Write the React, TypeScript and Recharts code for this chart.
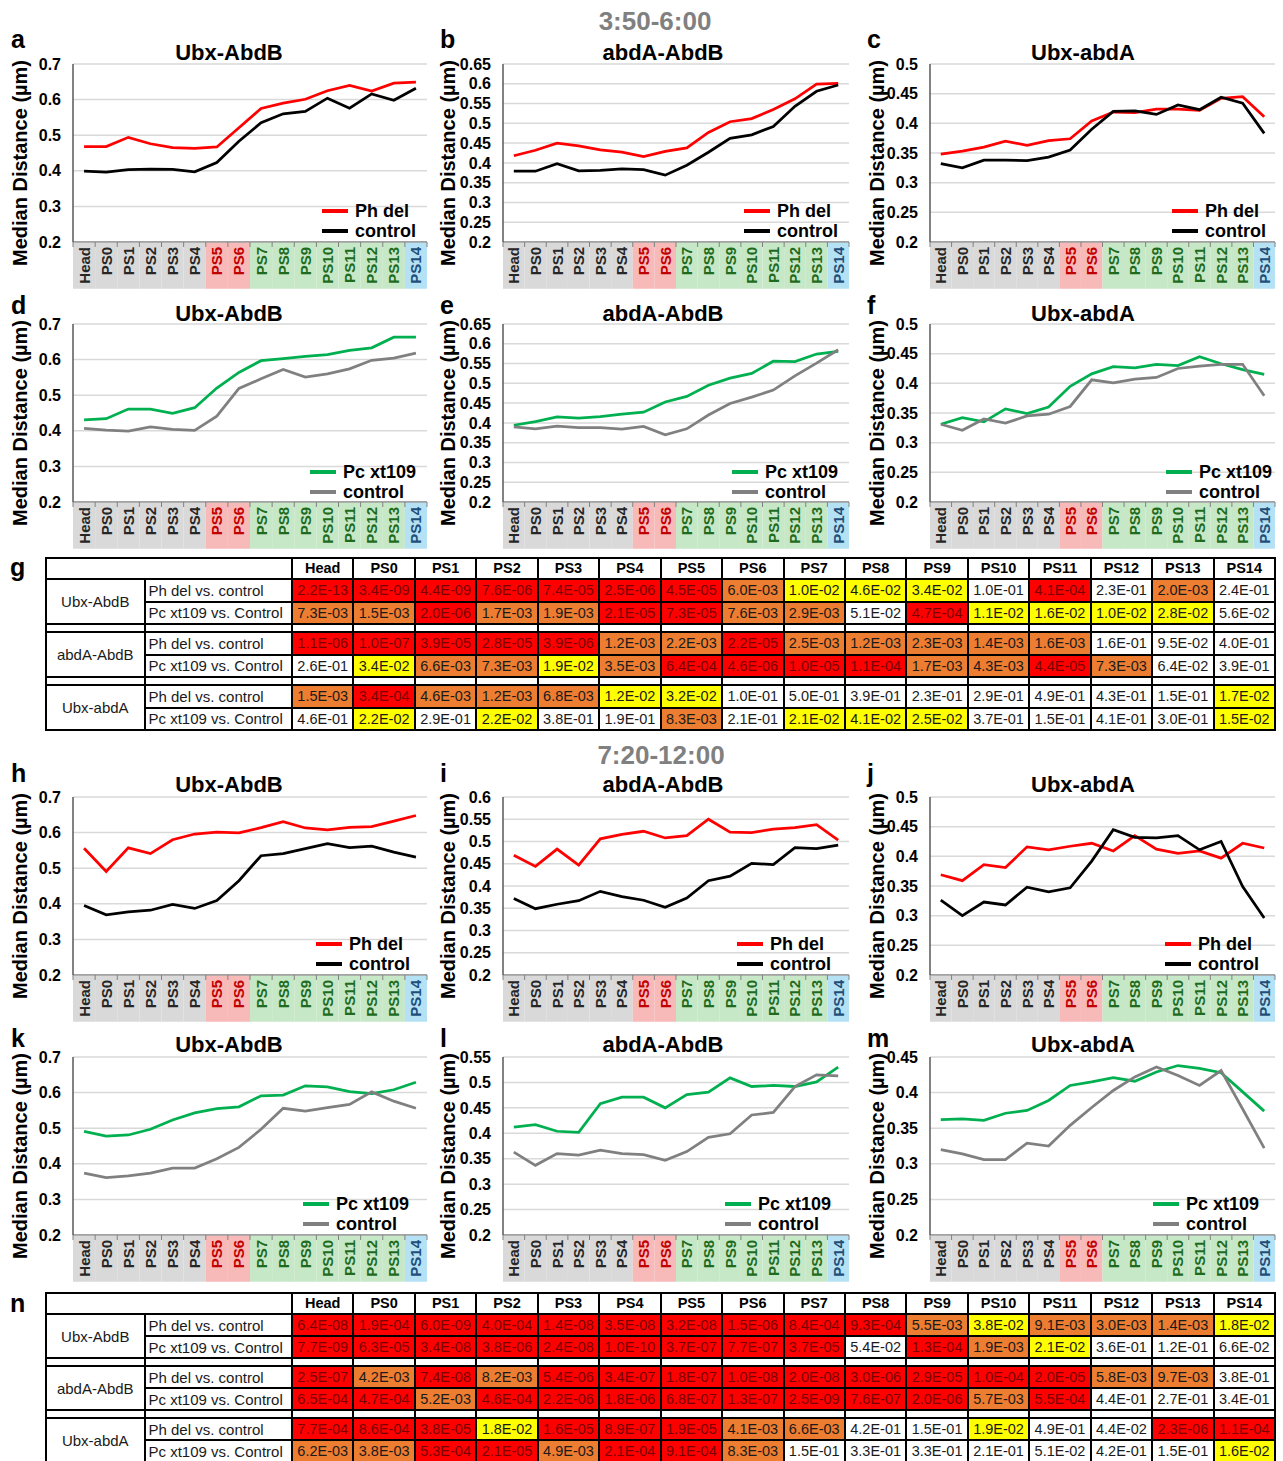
import React from 'react';
import { LineChart, Line, XAxis, YAxis, CartesianGrid, Legend } from 'recharts';

const FONT = '"Liberation Sans", Arial, Helvetica, sans-serif';
const RED = '#ff0000';
const BLACK = '#000000';
const GREEN = '#00b050';
const GRAY = '#808080';

const segments = ['Head', 'PS0', 'PS1', 'PS2', 'PS3', 'PS4', 'PS5', 'PS6', 'PS7', 'PS8', 'PS9', 'PS10', 'PS11', 'PS12', 'PS13', 'PS14'];
const segmentZone = ['ant', 'ant', 'ant', 'ant', 'ant', 'ant', 'ubx', 'ubx', 'abd', 'abd', 'abd', 'abd', 'abd', 'abd', 'abd', 'tail'];

const zoneStyle: Record<string, { fill: string; text: string }> = {
    ant: { fill: '#d9d9d9', text: '#262626' },
    ubx: { fill: '#f8b9b9', text: '#c00000' },
    abd: { fill: '#c6e8c6', text: '#1e6b1e' },
    tail: { fill: '#b5e1f5', text: '#1f4e79' },
};

// y axis ticks
const ticks070 = [0.2, 0.3, 0.4, 0.5, 0.6, 0.7];
const ticks065 = [0.2, 0.25, 0.3, 0.35, 0.4, 0.45, 0.5, 0.55, 0.6, 0.65];
const ticks060 = [0.2, 0.25, 0.3, 0.35, 0.4, 0.45, 0.5, 0.55, 0.6];
const ticks055 = [0.2, 0.25, 0.3, 0.35, 0.4, 0.45, 0.5, 0.55];
const ticks050 = [0.2, 0.25, 0.3, 0.35, 0.4, 0.45, 0.5];
const ticks045 = [0.2, 0.25, 0.3, 0.35, 0.4, 0.45];

// 3:50-6:00
const aPhDel = [0.468, 0.468, 0.494, 0.476, 0.465, 0.463, 0.467, 0.521, 0.575, 0.590, 0.601, 0.625, 0.640, 0.624, 0.646, 0.649];
const aControl = [0.399, 0.396, 0.403, 0.405, 0.404, 0.397, 0.423, 0.483, 0.535, 0.560, 0.567, 0.604, 0.576, 0.616, 0.598, 0.632];
const bPhDel = [0.418, 0.432, 0.450, 0.443, 0.433, 0.427, 0.416, 0.429, 0.438, 0.477, 0.504, 0.512, 0.535, 0.562, 0.599, 0.601];
const bControl = [0.379, 0.379, 0.398, 0.380, 0.381, 0.385, 0.383, 0.369, 0.394, 0.427, 0.462, 0.471, 0.492, 0.543, 0.581, 0.597];
const cPhDel = [0.348, 0.353, 0.360, 0.370, 0.363, 0.371, 0.374, 0.404, 0.419, 0.418, 0.424, 0.424, 0.422, 0.442, 0.445, 0.411];
const cControl = [0.332, 0.325, 0.338, 0.338, 0.337, 0.343, 0.355, 0.390, 0.420, 0.421, 0.415, 0.431, 0.423, 0.444, 0.434, 0.383];
const dPc = [0.431, 0.434, 0.461, 0.461, 0.449, 0.465, 0.520, 0.564, 0.597, 0.603, 0.609, 0.614, 0.626, 0.633, 0.663, 0.663];
const dControl = [0.407, 0.402, 0.399, 0.411, 0.404, 0.401, 0.441, 0.519, 0.546, 0.572, 0.551, 0.560, 0.574, 0.598, 0.604, 0.618];
const ePc = [0.394, 0.403, 0.415, 0.412, 0.416, 0.422, 0.427, 0.453, 0.467, 0.495, 0.513, 0.525, 0.556, 0.555, 0.574, 0.581];
const eControl = [0.390, 0.385, 0.392, 0.388, 0.388, 0.384, 0.391, 0.370, 0.385, 0.420, 0.449, 0.465, 0.483, 0.519, 0.551, 0.585];
const fPc = [0.331, 0.342, 0.335, 0.357, 0.349, 0.360, 0.395, 0.416, 0.428, 0.426, 0.432, 0.430, 0.445, 0.433, 0.423, 0.415];
const fControl = [0.331, 0.321, 0.340, 0.333, 0.345, 0.348, 0.361, 0.406, 0.401, 0.407, 0.410, 0.425, 0.429, 0.432, 0.432, 0.379];

// 7:20-12:00
const hPhDel = [0.556, 0.491, 0.557, 0.541, 0.580, 0.596, 0.601, 0.599, 0.614, 0.631, 0.613, 0.608, 0.615, 0.617, 0.632, 0.648];
const hControl = [0.395, 0.369, 0.377, 0.382, 0.398, 0.387, 0.409, 0.465, 0.535, 0.541, 0.555, 0.569, 0.558, 0.562, 0.545, 0.531];
const iPhDel = [0.469, 0.444, 0.483, 0.447, 0.506, 0.516, 0.523, 0.508, 0.513, 0.550, 0.521, 0.520, 0.528, 0.531, 0.538, 0.503];
const iControl = [0.372, 0.349, 0.359, 0.367, 0.388, 0.376, 0.368, 0.352, 0.373, 0.412, 0.422, 0.451, 0.448, 0.486, 0.484, 0.492];
const jPhDel = [0.369, 0.359, 0.386, 0.381, 0.416, 0.411, 0.417, 0.422, 0.409, 0.435, 0.412, 0.405, 0.409, 0.397, 0.422, 0.414];
const jControl = [0.326, 0.300, 0.323, 0.318, 0.348, 0.340, 0.347, 0.392, 0.445, 0.432, 0.431, 0.435, 0.411, 0.425, 0.349, 0.296];
const kPc = [0.491, 0.478, 0.481, 0.497, 0.523, 0.543, 0.555, 0.560, 0.591, 0.593, 0.619, 0.616, 0.603, 0.597, 0.608, 0.629];
const kControl = [0.374, 0.361, 0.366, 0.374, 0.388, 0.388, 0.414, 0.446, 0.497, 0.556, 0.548, 0.558, 0.567, 0.602, 0.576, 0.556];
const lPc = [0.412, 0.417, 0.404, 0.402, 0.458, 0.471, 0.471, 0.450, 0.476, 0.481, 0.509, 0.492, 0.494, 0.492, 0.501, 0.530];
const lControl = [0.363, 0.337, 0.360, 0.357, 0.367, 0.360, 0.358, 0.347, 0.364, 0.392, 0.399, 0.436, 0.441, 0.492, 0.515, 0.513];
const mPc = [0.362, 0.363, 0.361, 0.371, 0.375, 0.389, 0.410, 0.415, 0.421, 0.416, 0.429, 0.438, 0.434, 0.428, 0.401, 0.374];
const mControl = [0.320, 0.314, 0.306, 0.306, 0.329, 0.325, 0.354, 0.379, 0.403, 0.422, 0.436, 0.424, 0.410, 0.431, 0.377, 0.322];

// p-value tables
const pairs = ['Ubx-AbdB', 'abdA-AbdB', 'Ubx-abdA'];
const comparisons = ['Ph del vs. control', 'Pc xt109 vs. Control'];

const gUbxAbdBPh = ['2.2E-13', '3.4E-09', '4.4E-09', '7.6E-06', '7.4E-05', '2.5E-06', '4.5E-05', '6.0E-03', '1.0E-02', '4.6E-02', '3.4E-02', '1.0E-01', '4.1E-04', '2.3E-01', '2.0E-03', '2.4E-01'];
const gUbxAbdBPc = ['7.3E-03', '1.5E-03', '2.0E-06', '1.7E-03', '1.9E-03', '2.1E-05', '7.3E-05', '7.6E-03', '2.9E-03', '5.1E-02', '4.7E-04', '1.1E-02', '1.6E-02', '1.0E-02', '2.8E-02', '5.6E-02'];
const gAbdAAbdBPh = ['1.1E-06', '1.0E-07', '3.9E-05', '2.8E-05', '3.9E-06', '1.2E-03', '2.2E-03', '2.2E-05', '2.5E-03', '1.2E-03', '2.3E-03', '1.4E-03', '1.6E-03', '1.6E-01', '9.5E-02', '4.0E-01'];
const gAbdAAbdBPc = ['2.6E-01', '3.4E-02', '6.6E-03', '7.3E-03', '1.9E-02', '3.5E-03', '6.4E-04', '4.6E-06', '1.0E-05', '1.1E-04', '1.7E-03', '4.3E-03', '4.4E-05', '7.3E-03', '6.4E-02', '3.9E-01'];
const gUbxAbdAPh = ['1.5E-03', '3.4E-04', '4.6E-03', '1.2E-03', '6.8E-03', '1.2E-02', '3.2E-02', '1.0E-01', '5.0E-01', '3.9E-01', '2.3E-01', '2.9E-01', '4.9E-01', '4.3E-01', '1.5E-01', '1.7E-02'];
const gUbxAbdAPc = ['4.6E-01', '2.2E-02', '2.9E-01', '2.2E-02', '3.8E-01', '1.9E-01', '8.3E-03', '2.1E-01', '2.1E-02', '4.1E-02', '2.5E-02', '3.7E-01', '1.5E-01', '4.1E-01', '3.0E-01', '1.5E-02'];

const nUbxAbdBPh = ['6.4E-08', '1.9E-04', '6.0E-09', '4.0E-04', '1.4E-08', '3.5E-08', '3.2E-08', '1.5E-06', '8.4E-04', '9.3E-04', '5.5E-03', '3.8E-02', '9.1E-03', '3.0E-03', '1.4E-03', '1.8E-02'];
const nUbxAbdBPc = ['7.7E-09', '6.3E-05', '3.4E-08', '3.8E-06', '2.4E-08', '1.0E-10', '3.7E-07', '7.7E-07', '3.7E-05', '5.4E-02', '1.3E-04', '1.9E-03', '2.1E-02', '3.6E-01', '1.2E-01', '6.6E-02'];
const nAbdAAbdBPh = ['2.5E-07', '4.2E-03', '7.4E-08', '8.2E-03', '5.4E-06', '3.4E-07', '1.8E-07', '1.0E-08', '2.0E-08', '3.0E-06', '2.9E-05', '1.0E-04', '2.0E-05', '5.8E-03', '9.7E-03', '3.8E-01'];
const nAbdAAbdBPc = ['6.5E-04', '4.7E-04', '5.2E-03', '4.6E-04', '2.2E-06', '1.8E-06', '6.8E-07', '1.3E-07', '2.5E-09', '7.6E-07', '2.0E-06', '5.7E-03', '5.5E-04', '4.4E-01', '2.7E-01', '3.4E-01'];
const nUbxAbdAPh = ['7.7E-04', '8.6E-04', '3.8E-05', '1.8E-02', '1.6E-05', '8.9E-07', '1.9E-05', '4.1E-03', '6.6E-03', '4.2E-01', '1.5E-01', '1.9E-02', '4.9E-01', '4.4E-02', '2.3E-06', '1.1E-04'];
const nUbxAbdAPc = ['6.2E-03', '3.8E-03', '5.3E-04', '2.1E-05', '4.9E-03', '2.1E-04', '9.1E-04', '8.3E-03', '1.5E-01', '3.3E-01', '3.3E-01', '2.1E-01', '5.1E-02', '4.2E-01', '1.5E-01', '1.6E-02'];
// this cell is left unshaded in the original figure
const nUnshaded = ['4-13'];

// geometry
const YW = 60;
const MT = 10;
const MR = 6;
const XH = 50;
const PH = 178;
const BAND = 46;

const cols = [
    { x: 73, w: 354, letterX: 11, labelX: 20, titleX: 229 },
    { x: 503, w: 346, letterX: 440, labelX: 448, titleX: 663 },
    { x: 930, w: 345, letterX: 867, labelX: 877, titleX: 1083 },
];
const rowsY = [
    { top: 64, titleY: 60, letterY: 48 },
    { top: 324, titleY: 321, letterY: 314 },
    { top: 797, titleY: 792, letterY: 782 },
    { top: 1057, titleY: 1052, letterY: 1047 },
];

interface PanelDef {
    letter: string;
    row: number;
    col: number;
    title: string;
    ticks: number[];
    names: string[];
    colors: string[];
    values: number[][];
    legend: [number, number];
}

const PH_SERIES = ['Ph del', 'control'];
const PC_SERIES = ['Pc xt109', 'control'];

const panels: PanelDef[] = [
    { letter: 'a', row: 0, col: 0, title: 'Ubx-AbdB', ticks: ticks070, names: PH_SERIES, colors: [RED, BLACK], values: [aPhDel, aControl], legend: [322, 211] },
    { letter: 'b', row: 0, col: 1, title: 'abdA-AbdB', ticks: ticks065, names: PH_SERIES, colors: [RED, BLACK], values: [bPhDel, bControl], legend: [744, 211] },
    { letter: 'c', row: 0, col: 2, title: 'Ubx-abdA', ticks: ticks050, names: PH_SERIES, colors: [RED, BLACK], values: [cPhDel, cControl], legend: [1172, 211] },
    { letter: 'd', row: 1, col: 0, title: 'Ubx-AbdB', ticks: ticks070, names: PC_SERIES, colors: [GREEN, GRAY], values: [dPc, dControl], legend: [310, 472] },
    { letter: 'e', row: 1, col: 1, title: 'abdA-AbdB', ticks: ticks065, names: PC_SERIES, colors: [GREEN, GRAY], values: [ePc, eControl], legend: [732, 472] },
    { letter: 'f', row: 1, col: 2, title: 'Ubx-abdA', ticks: ticks050, names: PC_SERIES, colors: [GREEN, GRAY], values: [fPc, fControl], legend: [1166, 472] },
    { letter: 'h', row: 2, col: 0, title: 'Ubx-AbdB', ticks: ticks070, names: PH_SERIES, colors: [RED, BLACK], values: [hPhDel, hControl], legend: [316, 944] },
    { letter: 'i', row: 2, col: 1, title: 'abdA-AbdB', ticks: ticks060, names: PH_SERIES, colors: [RED, BLACK], values: [iPhDel, iControl], legend: [737, 944] },
    { letter: 'j', row: 2, col: 2, title: 'Ubx-abdA', ticks: ticks050, names: PH_SERIES, colors: [RED, BLACK], values: [jPhDel, jControl], legend: [1165, 944] },
    { letter: 'k', row: 3, col: 0, title: 'Ubx-AbdB', ticks: ticks070, names: PC_SERIES, colors: [GREEN, GRAY], values: [kPc, kControl], legend: [303, 1204] },
    { letter: 'l', row: 3, col: 1, title: 'abdA-AbdB', ticks: ticks055, names: PC_SERIES, colors: [GREEN, GRAY], values: [lPc, lControl], legend: [725, 1204] },
    { letter: 'm', row: 3, col: 2, title: 'Ubx-abdA', ticks: ticks045, names: PC_SERIES, colors: [GREEN, GRAY], values: [mPc, mControl], legend: [1153, 1204] },
];

const fmt = (v: number) => String(Number(v.toFixed(2)));

const SegmentTick = (props: any) => {
    const { x, payload, index, axisY, step } = props;
    const zone = zoneStyle[segmentZone[index]];
    const isLast = index === segments.length - 1;
    return (
        <g>
            <rect x={x - step / 2} y={axisY + 0.75} width={step} height={BAND} fill={zone.fill} />
            <line x1={x - step / 2} x2={x - step / 2} y1={axisY} y2={axisY + 5} stroke="#808080" strokeWidth={1} />
            {isLast && <line x1={x + step / 2} x2={x + step / 2} y1={axisY} y2={axisY + 5} stroke="#808080" strokeWidth={1} />}
            <text
                transform={`translate(${x + 5.5},${axisY + 5}) rotate(-90)`}
                textAnchor="end"
                fontFamily={FONT}
                fontWeight={700}
                fontSize={15}
                fill={zone.text}
            >
                {payload.value}
            </text>
        </g>
    );
};

const Panel = ({ p }: { p: PanelDef }) => {
    const c = cols[p.col];
    const r = rowsY[p.row];
    const step = c.w / segments.length;
    const left = c.x - YW;
    const top = r.top - MT;
    const data = segments.map((s, i) => ({ seg: s, v0: p.values[0][i], v1: p.values[1][i] }));

    return (
        <div style={{ position: 'absolute', left, top }}>
            <LineChart width={YW + c.w + MR} height={MT + PH + XH} data={data} margin={{ top: MT, right: MR, bottom: 0, left: 0 }}>
                <CartesianGrid vertical={false} stroke="#d9d9d9" strokeWidth={1.5} />
                <XAxis
                    dataKey="seg"
                    type="category"
                    interval={0}
                    height={XH}
                    padding={{ left: step / 2, right: step / 2 }}
                    tickLine={false}
                    axisLine={{ stroke: '#8c8c8c', strokeWidth: 1.5 }}
                    tick={(t: any) => <SegmentTick {...t} axisY={MT + PH} step={step} />}
                />
                <YAxis
                    type="number"
                    width={YW}
                    domain={[p.ticks[0], p.ticks[p.ticks.length - 1]]}
                    ticks={p.ticks}
                    interval={0}
                    allowDataOverflow
                    tickLine={false}
                    tickSize={6}
                    tickMargin={6}
                    tickFormatter={fmt}
                    axisLine={{ stroke: '#595959', strokeWidth: 1.5 }}
                    tick={{ fill: '#000', fontSize: 16, fontWeight: 700, fontFamily: FONT }}
                />
                <Legend
                    layout="vertical"
                    align="center"
                    verticalAlign="middle"
                    wrapperStyle={{ left: p.legend[0] - left, top: p.legend[1] - 10 - top, width: 'auto' }}
                    content={() => (
                        <div style={{ fontFamily: FONT, fontWeight: 700, fontSize: 18, color: '#000', whiteSpace: 'nowrap' }}>
                            {p.names.map((n, i) => (
                                <div key={n} style={{ display: 'flex', alignItems: 'center', height: 20 }}>
                                    <span style={{ display: 'inline-block', width: 26, height: 4.5, background: p.colors[i], marginRight: 7 }} />
                                    <span>{n}</span>
                                </div>
                            ))}
                        </div>
                    )}
                />
                <Line type="linear" dataKey="v0" name={p.names[0]} stroke={p.colors[0]} strokeWidth={2.75} dot={false} isAnimationActive={false} />
                <Line type="linear" dataKey="v1" name={p.names[1]} stroke={p.colors[1]} strokeWidth={2.75} dot={false} isAnimationActive={false} />
            </LineChart>
        </div>
    );
};

const shade = (p: number) => (p < 0.001 ? '#ff0000' : p < 0.01 ? '#ed7d31' : p < 0.05 ? '#ffff00' : '#ffffff');
const ink = (p: number) => (p < 0.001 ? '#7a0000' : '#1a1a1a');

const border = '2px solid #000';

const PTable = ({ top, rowH, rows, unshaded }: { top: number; rowH: number; rows: string[][]; unshaded: string[] }) => {
    const baseCell: React.CSSProperties = { border, padding: 0, lineHeight: 1, overflow: 'hidden', whiteSpace: 'nowrap' };
    return (
        <table
            style={{
                position: 'absolute',
                left: 45,
                top,
                width: 1229,
                borderCollapse: 'collapse',
                tableLayout: 'fixed',
                fontFamily: FONT,
                color: '#1a1a1a',
            }}
        >
            <colgroup>
                <col style={{ width: 98.5 }} />
                <col style={{ width: 147.5 }} />
                {segments.map((s) => (
                    <col key={s} style={{ width: 983 / 16 }} />
                ))}
            </colgroup>
            <tbody>
                <tr style={{ height: 21 }}>
                    <td colSpan={2} style={baseCell} />
                    {segments.map((s) => (
                        <td key={s} style={{ ...baseCell, textAlign: 'center', fontWeight: 700, fontSize: 14.5, color: '#000' }}>
                            {s}
                        </td>
                    ))}
                </tr>
                {pairs.map((pair, gi) => (
                    <React.Fragment key={pair}>
                        {gi > 0 && (
                            <tr style={{ height: 8 }}>
                                {Array.from({ length: segments.length + 2 }).map((_, k) => (
                                    <td key={k} style={{ ...baseCell, fontSize: 0, height: 4 }} />
                                ))}
                            </tr>
                        )}
                        {comparisons.map((cmp, ci) => {
                            const ri = gi * 2 + ci;
                            return (
                                <tr key={cmp} style={{ height: rowH }}>
                                    {ci === 0 && (
                                        <td rowSpan={2} style={{ ...baseCell, textAlign: 'center', fontSize: 15 }}>
                                            {pair}
                                        </td>
                                    )}
                                    <td style={{ ...baseCell, fontSize: 15, paddingLeft: 3 }}>{cmp}</td>
                                    {rows[ri].map((v, k) => {
                                        const pv = parseFloat(v);
                                        const plain = unshaded.includes(`${ri}-${k}`);
                                        return (
                                            <td
                                                key={k}
                                                style={{
                                                    ...baseCell,
                                                    textAlign: 'center',
                                                    fontSize: 14.5,
                                                    background: plain ? '#ffffff' : shade(pv),
                                                    color: plain ? '#1a1a1a' : ink(pv),
                                                }}
                                            >
                                                {v}
                                            </td>
                                        );
                                    })}
                                </tr>
                            );
                        })}
                    </React.Fragment>
                ))}
            </tbody>
        </table>
    );
};

const App = () => {
    return (
        <div style={{ position: 'absolute', left: 0, top: 0, width: 1283, height: 1461, overflow: 'hidden', background: '#fff' }}>
            {panels.map((p) => (
                <Panel key={p.letter} p={p} />
            ))}

            <svg width={1283} height={1461} style={{ position: 'absolute', left: 0, top: 0, pointerEvents: 'none' }}>
                <text x={655} y={30} textAnchor="middle" fontFamily={FONT} fontWeight={700} fontSize={26} fill="#808080">
                    3:50-6:00
                </text>
                <text x={661} y={764} textAnchor="middle" fontFamily={FONT} fontWeight={700} fontSize={26} fill="#808080">
                    7:20-12:00
                </text>
                {panels.map((p) => {
                    const c = cols[p.col];
                    const r = rowsY[p.row];
                    return (
                        <g key={p.letter}>
                            <text x={c.letterX} y={r.letterY} fontFamily={FONT} fontWeight={700} fontSize={25} fill="#000">
                                {p.letter}
                            </text>
                            <text x={c.titleX} y={r.titleY} textAnchor="middle" fontFamily={FONT} fontWeight={700} fontSize={22} fill="#000">
                                {p.title}
                            </text>
                            <text
                                transform={`translate(${c.labelX},${r.top + PH / 2 + 10}) rotate(-90)`}
                                textAnchor="middle"
                                dominantBaseline="central"
                                fontFamily={FONT}
                                fontWeight={700}
                                fontSize={20}
                                fill="#000"
                            >
                                Median Distance (µm)
                            </text>
                        </g>
                    );
                })}
                <text x={10} y={576} fontFamily={FONT} fontWeight={700} fontSize={25} fill="#000">
                    g
                </text>
                <text x={10} y={1312} fontFamily={FONT} fontWeight={700} fontSize={25} fill="#000">
                    n
                </text>
            </svg>

            <PTable top={557} rowH={22.5} rows={[gUbxAbdBPh, gUbxAbdBPc, gAbdAAbdBPh, gAbdAAbdBPc, gUbxAbdAPh, gUbxAbdAPc]} unshaded={[]} />
            <PTable top={1292} rowH={22} rows={[nUbxAbdBPh, nUbxAbdBPc, nAbdAAbdBPh, nAbdAAbdBPc, nUbxAbdAPh, nUbxAbdAPc]} unshaded={nUnshaded} />
        </div>
    );
};

export default App;
